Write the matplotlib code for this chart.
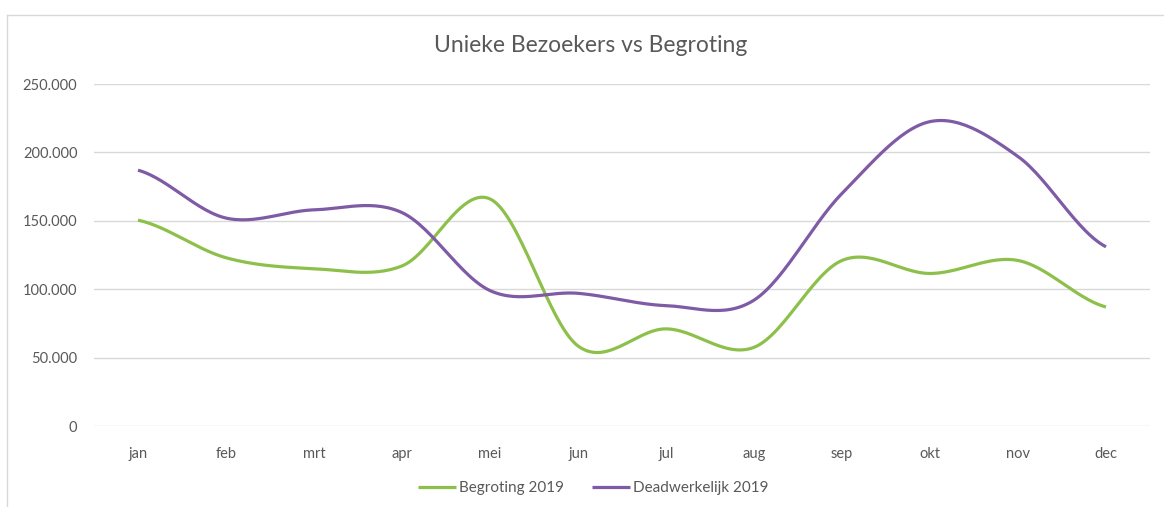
import numpy as np
import matplotlib
matplotlib.use("Agg")
from matplotlib import pyplot as plt
from matplotlib.lines import Line2D
from matplotlib.ticker import FuncFormatter

plt.rcParams['font.family'] = ['Lato', 'DejaVu Sans']

maanden = ["jan", "feb", "mrt", "apr", "mei", "jun", "jul", "aug", "sep", "okt", "nov", "dec"]
begroting = [150500, 123000, 115000, 117000, 166000, 58500, 71000, 57500, 121000, 111500, 121000, 87000]
werkelijk = [187000, 152000, 158000, 156000, 99000, 97000, 88000, 92000, 170000, 222500, 197000, 131000]

groen = "#8DC04A"
paars = "#7F5BA6"
grijs = "#595959"


def smooth(ys, n=30):
    # catmull-rom zoals excel's "vloeiende lijn"
    ys = np.asarray(ys, dtype=float)
    p = np.concatenate([[ys[0]], ys, [ys[-1]]])
    xs_out, ys_out = [], []
    t = np.linspace(0, 1, n, endpoint=False)
    for i in range(len(ys) - 1):
        p0, p1, p2, p3 = p[i], p[i + 1], p[i + 2], p[i + 3]
        y = 0.5 * ((2 * p1) + (-p0 + p2) * t + (2 * p0 - 5 * p1 + 4 * p2 - p3) * t ** 2
                   + (-p0 + 3 * p1 - 3 * p2 + p3) * t ** 3)
        xs_out.extend(i + t)
        ys_out.extend(y)
    xs_out.append(len(ys) - 1)
    ys_out.append(ys[-1])
    return np.array(xs_out), np.array(ys_out)


fig = plt.figure(figsize=(11.64, 5.07), dpi=100)
ax = fig.add_axes([94 / 1164, 1 - 426 / 507, (1150 - 94) / 1164, (426 - 84) / 507])

x1, y1 = smooth(begroting)
x2, y2 = smooth(werkelijk)
ax.plot(x1, y1, color=groen, lw=2.3, label="Begroting 2019", solid_capstyle='butt')
ax.plot(x2, y2, color=paars, lw=2.3, label="Deadwerkelijk 2019", solid_capstyle='butt')

ax.set_xlim(-0.5, 11.5)
ax.set_ylim(0, 250000)
ax.set_xticks(range(len(maanden)))
ax.set_xticklabels(maanden)
ax.set_yticks(range(0, 250001, 50000))
ax.yaxis.set_major_formatter(FuncFormatter(lambda v, _: f"{int(v):,}".replace(",", ".")))
ax.grid(axis='y', color="#D9D9D9", lw=1)
ax.set_axisbelow(True)
for s in ax.spines.values():
    s.set_visible(False)
ax.tick_params(length=0, colors=grijs, labelsize=10.5)
ax.tick_params(axis='y', pad=12)
ax.tick_params(axis='x', pad=15)

fig.text(591 / 1164, 1 - 45 / 507, "Unieke Bezoekers vs Begroting", ha='center', va='center',
         fontsize=16.5, color=grijs)

fig.legend(loc='center', bbox_to_anchor=(593 / 1164, 1 - 488 / 507), ncol=2, frameon=False,
           fontsize=11, labelcolor=grijs, handlelength=2.5, handletextpad=0.2, columnspacing=1.8)

# rand van het grafiekvlak
fig.add_artist(Line2D([7 / 1164, 1], [1 - 15 / 507, 1 - 15 / 507], color="#D9D9D9", lw=1))
fig.add_artist(Line2D([7 / 1164, 7 / 1164], [0, 1 - 15 / 507], color="#D9D9D9", lw=1))

fig.savefig("out.png", dpi=100)
